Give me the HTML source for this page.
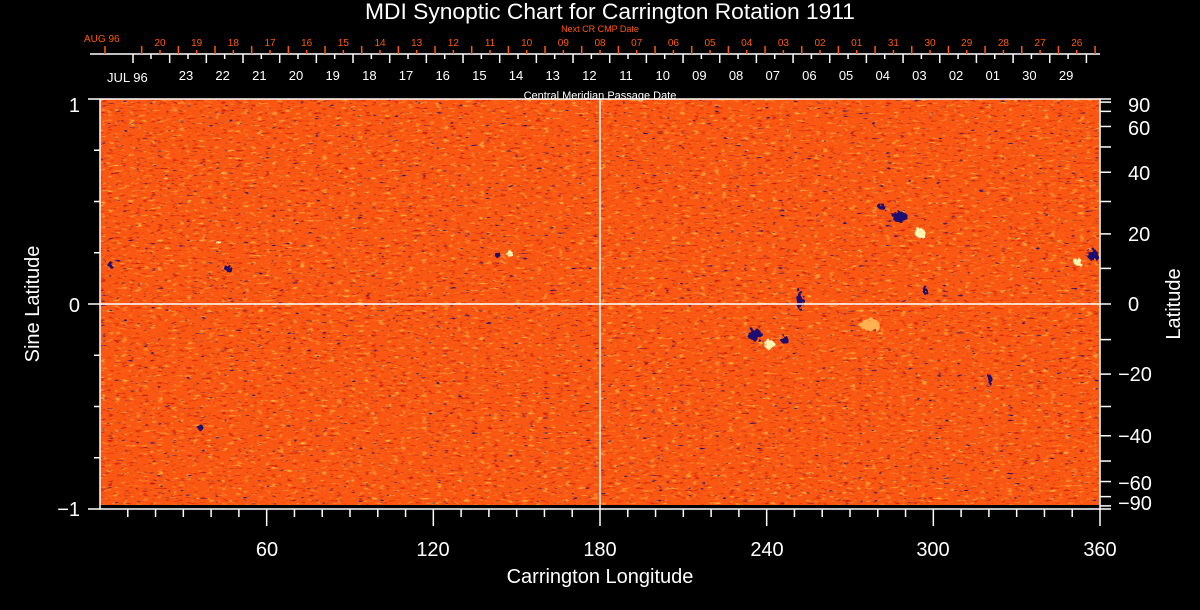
<!DOCTYPE html>
<html><head><meta charset="utf-8"><style>
html,body{margin:0;padding:0;background:#000;}
svg{display:block;}
text{font-family:"Liberation Sans",sans-serif;}
</style></head><body>
<svg id="s" width="1200" height="610" viewBox="0 0 1200 610" xmlns="http://www.w3.org/2000/svg">
<defs>
<filter id="n" x="0" y="0" width="100%" height="100%" color-interpolation-filters="sRGB">
<feTurbulence type="fractalNoise" baseFrequency="0.14 0.4" numOctaves="2" seed="4" result="t"/>
<feColorMatrix in="t" type="matrix" values="0 0 0 0 1  0 0 0 0 0.72  0 0 0 0 0.25  4 0 0 0 -2.4" result="y"/>
<feColorMatrix in="t" type="matrix" values="0 0 0 0 0.78  0 0 0 0 0.08  0 0 0 0 0.04  0 4 0 0 -2.45" result="r"/>
<feColorMatrix in="t" type="matrix" values="0 0 0 0 0.1  0 0 0 0 0.05  0 0 0 0 0.5  0 0 6 0 -4.2" result="b"/>
<feMerge><feMergeNode in="SourceGraphic"/><feMergeNode in="r"/><feMergeNode in="y"/><feMergeNode in="b"/></feMerge>
</filter>
<filter id="rough"><feTurbulence type="fractalNoise" baseFrequency="0.3" numOctaves="1" seed="2"/><feDisplacementMap in="SourceGraphic" scale="8"/></filter>
</defs>
<rect x="100" y="99" width="1000" height="406" fill="#fa5812" filter="url(#n)"/>
<g fill="#1a0a70" filter="url(#rough)">
<ellipse cx="900" cy="217" rx="8" ry="5"/><ellipse cx="882" cy="207" rx="4" ry="3"/>
<ellipse cx="755" cy="335" rx="7" ry="6"/><ellipse cx="785" cy="340" rx="4" ry="4"/>
<ellipse cx="1093" cy="255" rx="5" ry="6"/><ellipse cx="228" cy="268" rx="3" ry="4"/>
<ellipse cx="110" cy="264" rx="3" ry="3"/><ellipse cx="498" cy="255" rx="3" ry="3"/>
<ellipse cx="200" cy="427" rx="3" ry="3"/><ellipse cx="925" cy="290" rx="2" ry="5"/>
<ellipse cx="800" cy="300" rx="3" ry="10"/><ellipse cx="990" cy="380" rx="2" ry="5"/>
</g>
<g fill="#fff4b0" filter="url(#rough)">
<ellipse cx="920" cy="233" rx="5" ry="5"/><ellipse cx="770" cy="345" rx="5" ry="5"/>
<ellipse cx="1078" cy="262" rx="4" ry="4"/><ellipse cx="510" cy="254" rx="3" ry="3"/>
<ellipse cx="870" cy="325" rx="10" ry="6" fill="#ffb050"/><ellipse cx="218" cy="242" rx="2" ry="2"/>
</g>
<g stroke="#fff" stroke-width="1.5" fill="none" id="ax">
<line x1="600" y1="99" x2="600" y2="509"/>
<line x1="100" y1="304" x2="1100" y2="304"/>
<polyline points="100,99 100,509 1100,509 1100,99 100,99"/>
<line x1="90" y1="54" x2="1100" y2="54" stroke-width="1.5"/>
</g>
<g id="tk" stroke="#fff" stroke-width="1.5"></g>
<g id="rtk" stroke="#ff5a00" stroke-width="1.5"></g>
<g fill="#fff" font-size="20">
<text x="610" y="19" text-anchor="middle" font-size="22" textLength="490" lengthAdjust="spacingAndGlyphs">MDI Synoptic Chart for Carrington Rotation 1911</text>
<text x="80" y="112" text-anchor="end">1</text>
<text x="80" y="312" text-anchor="end">0</text>
<text x="80" y="516" text-anchor="end">−1</text>
<text x="267" y="556" text-anchor="middle">60</text>
<text x="433" y="556" text-anchor="middle">120</text>
<text x="600" y="556" text-anchor="middle">180</text>
<text x="767" y="556" text-anchor="middle">240</text>
<text x="933" y="556" text-anchor="middle">300</text>
<text x="1100" y="556" text-anchor="middle">360</text>
<text x="600" y="583" text-anchor="middle">Carrington Longitude</text>
<text transform="translate(39,304) rotate(-90)" text-anchor="middle">Sine Latitude</text>
<text transform="translate(1180,304) rotate(-90)" text-anchor="middle">Latitude</text>
<g text-anchor="start">
<text x="1128" y="112">90</text>
<text x="1128" y="135">60</text>
<text x="1128" y="180">40</text>
<text x="1128" y="241">20</text>
<text x="1128" y="311">0</text>
<text x="1118" y="381">−20</text>
<text x="1118" y="443">−40</text>
<text x="1118" y="490">−60</text>
<text x="1118" y="510">−90</text>
</g>
<text x="600" y="99" text-anchor="middle" font-size="11">Central Meridian Passage Date</text>
<text x="600" y="32" text-anchor="middle" font-size="9" fill="#ff5a00">Next CR CMP Date</text>
<text x="84" y="42" font-size="10" fill="#ff5a00">AUG 96</text>
<text x="107" y="82" font-size="13">JUL 96</text>
</g>
<g id="rl" fill="#ff5a00" font-size="10" text-anchor="middle"></g>
<g id="wl" fill="#fff" font-size="13" text-anchor="middle"></g>
</svg>
<script>
var NS="http://www.w3.org/2000/svg";
function L(g,x1,y1,x2,y2){var l=document.createElementNS(NS,"line");l.setAttribute("x1",x1);l.setAttribute("y1",y1);l.setAttribute("x2",x2);l.setAttribute("y2",y2);document.getElementById(g).appendChild(l);}
function T(g,x,y,s){var t=document.createElementNS(NS,"text");t.setAttribute("x",x);t.setAttribute("y",y);t.textContent=s;document.getElementById(g).appendChild(t);}
for(var k=1;k<=36;k++){var x=100+k*1000/36;L("tk",x,509,x,k%6==0?526:517);}
for(var i=0;i<=8;i++){var y=99+i*51.25;L("tk",i%4==0?88:94,y,100,y);}
for(var a=-90;a<=90;a+=10){var y=304-205*Math.sin(a*Math.PI/180);L("tk",1100,y,1111,y);}
var d=36.67;
var rl=["20","19","18","17","16","15","14","13","12","11","10","09","08","07","06","05","04","03","02","01","31","30","29","28","27","26"];
for(var j=0;j<28;j++){var x=105+j*d;if(x<=1100)L("rtk",x,46,x,54);}
for(var k=0;k<rl.length;k++){var x=160+k*d;L("rtk",x,50,x,54);T("rl",x,46,rl[k]);}
var wl=["23","22","21","20","19","18","17","16","15","14","13","12","11","10","09","08","07","06","05","04","03","02","01","30","29"];
for(var j=0;j<27;j++){var x=133+j*d;if(x<=1100)L("tk",x,54,x,63);}
for(var k=0;k<wl.length;k++){var x=188+k*d;L("tk",x,54,x,59);T("wl",x-2,80,wl[k]);}
L("tk",151,54,151,59);
</script>
</body></html>
